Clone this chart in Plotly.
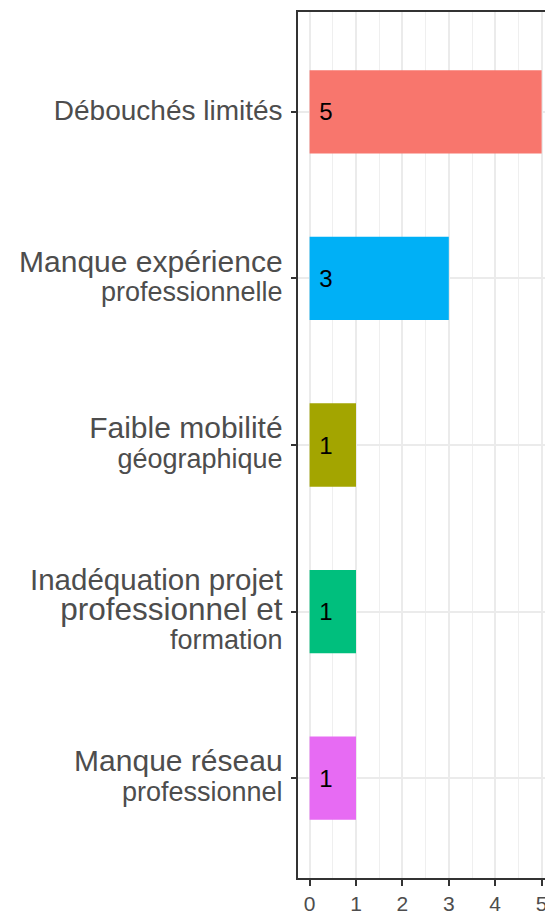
import plotly.graph_objects as go

# Data
categories = [
    "Débouchés limités",
    "Manque expérience professionnelle",
    "Faible mobilité géographique",
    "Inadéquation projet professionnel et formation",
    "Manque réseau professionnel",
]
label_lines = [
    ["Débouchés limités"],
    ["Manque expérience", "professionnelle"],
    ["Faible mobilité", "géographique"],
    ["Inadéquation projet", "professionnel et", "formation"],
    ["Manque réseau", "professionnel"],
]
values = [5, 3, 1, 1, 1]
x_ticks = [0, 1, 2, 3, 4, 5]

# Styles
palette = ["#F8766D", "#00B0F6", "#A3A500", "#00BF7D", "#E76BF3"]
single_size = 28
two_line_sizes = [30, 27]
three_line_sizes = [29.5, 31.5, 27]


def make_label(lines):
    if len(lines) == 1:
        sizes = [single_size]
    elif len(lines) == 2:
        sizes = two_line_sizes
    else:
        sizes = three_line_sizes
    parts = [f"<span style='font-size:{s}px'>{ln}</span>" for ln, s in zip(lines, sizes)]
    return "<br>".join(parts)


tick_text = [make_label(l) for l in label_lines]

fig = go.Figure()
fig.add_trace(go.Bar(
    y=categories,
    x=values,
    orientation="h",
    width=0.5,
    marker=dict(color=palette, line=dict(width=0)),
    text=[str(v) for v in values],
    texttemplate="\u00a0%{text}",
    textposition="inside",
    insidetextanchor="start",
    textfont=dict(family="Arial", size=24, color="#000000"),
    constraintext="none",
    showlegend=False,
    hoverinfo="skip",
))

fig.update_layout(
    width=545,
    height=911,
    margin=dict(l=298, r=0, t=12, b=33),
    paper_bgcolor="white",
    plot_bgcolor="white",
    font=dict(family="Arial", color="#4D4D4D"),
    bargap=0.5,
)

fig.update_xaxes(
    automargin=False,
    range=[-0.25, 5.073],
    tickvals=x_ticks,
    ticktext=[str(t) for t in x_ticks],
    showgrid=True,
    gridcolor="#EBEBEB",
    gridwidth=1.6,
    minor=dict(dtick=0.5, tick0=0, showgrid=True, gridcolor="#EFEFEF", gridwidth=1.0),
    zeroline=False,
    showline=True,
    linecolor="#333333",
    linewidth=1.6,
    mirror=True,
    ticks="outside",
    ticklen=6,
    tickwidth=1.6,
    tickcolor="#333333",
    tickfont=dict(family="Arial", size=21, color="#4D4D4D"),
    ticklabeloverflow="allow",
    ticklabelstandoff=0,
    fixedrange=True,
)

fig.update_yaxes(
    automargin=False,
    categoryorder="array",
    categoryarray=categories,
    tickvals=categories,
    ticktext=tick_text,
    range=[4.6, -0.6],
    showgrid=True,
    gridcolor="#EBEBEB",
    gridwidth=1.6,
    zeroline=False,
    showline=True,
    linecolor="#333333",
    linewidth=1.6,
    mirror=False,
    ticks="outside",
    ticklen=5,
    tickwidth=1.6,
    tickcolor="#333333",
    tickfont=dict(family="Arial", size=23, color="#4D4D4D"),
    ticklabelstandoff=4,
    fixedrange=True,
)

fig.write_html(
    "out.html",
    config={"displayModeBar": False},
    post_script="document.body.style.margin='0';document.body.style.overflow='hidden';",
)
